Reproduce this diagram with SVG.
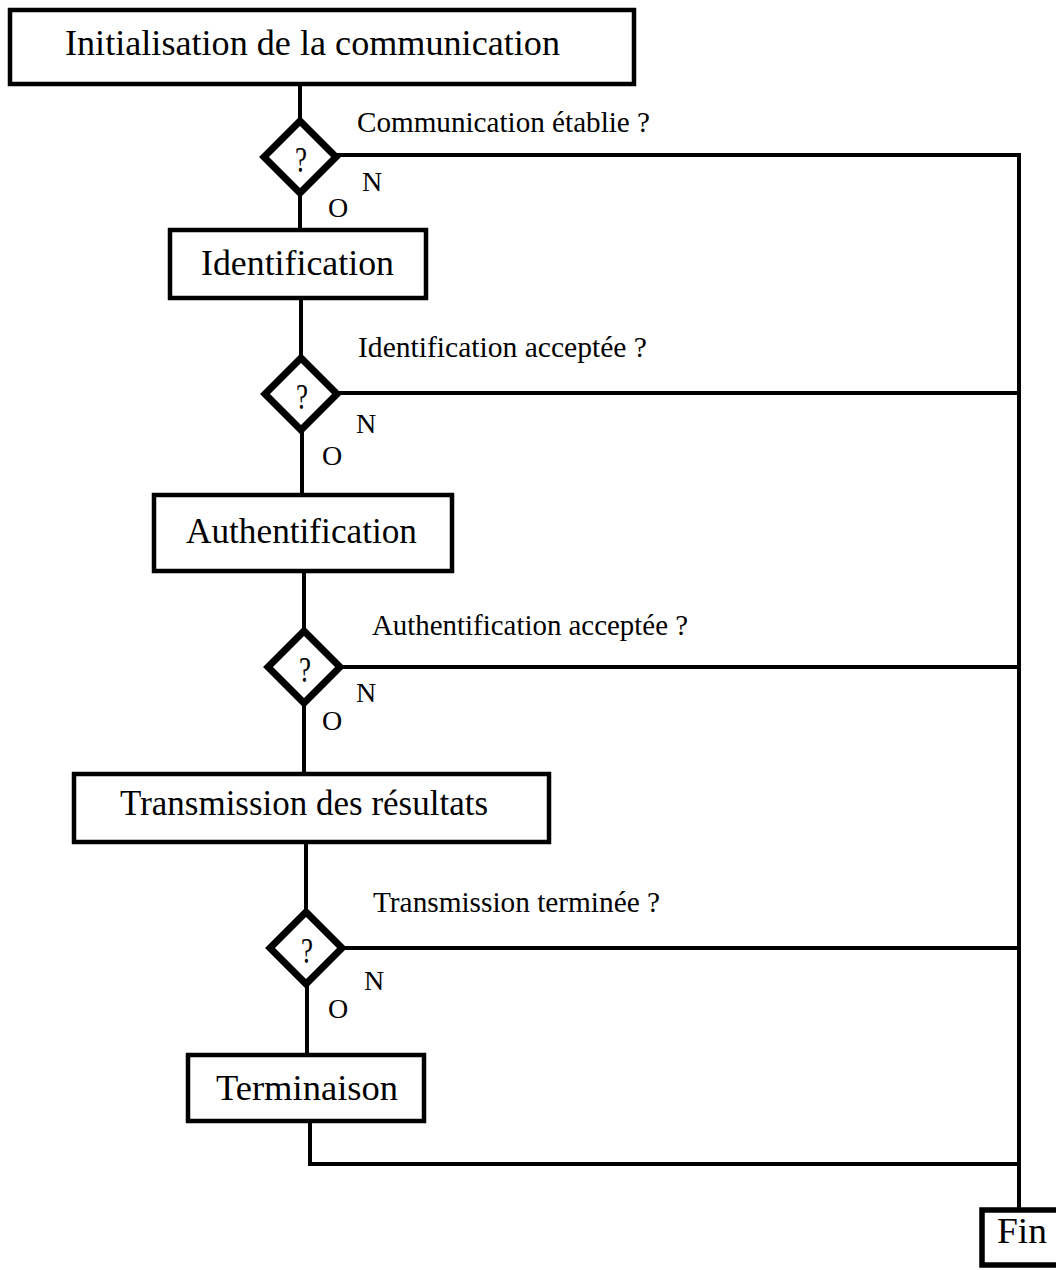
<svg xmlns="http://www.w3.org/2000/svg" width="1056" height="1270" viewBox="0 0 1056 1270">
<style>
.box{fill:#fff;stroke:#000;stroke-width:4.5}
.dia{fill:#fff;stroke:#000;stroke-width:7;stroke-linejoin:miter}
.ln{fill:none;stroke:#000;stroke-width:4;stroke-linecap:square}
.big{font-family:"Liberation Serif","Times New Roman",serif;font-size:36px;fill:#000}
.q{font-family:"Liberation Serif","Times New Roman",serif;font-size:29px;fill:#000}
.no{font-family:"Liberation Serif","Times New Roman",serif;font-size:28px;fill:#000}
.qm{font-family:"Liberation Serif","Times New Roman",serif;font-size:35px;fill:#000;text-anchor:middle}
</style>
<rect width="1056" height="1270" fill="#fff"/>
<g id="connectors">
<line class="ln" x1="300" y1="86" x2="300" y2="118"/>
<line class="ln" x1="300" y1="196" x2="300" y2="230"/>
<line class="ln" x1="301" y1="300" x2="301" y2="355"/>
<line class="ln" x1="302" y1="433" x2="302" y2="495"/>
<line class="ln" x1="304" y1="572" x2="304" y2="628"/>
<line class="ln" x1="304" y1="706" x2="304" y2="774"/>
<line class="ln" x1="306" y1="843" x2="306" y2="909"/>
<line class="ln" x1="307" y1="987" x2="307" y2="1055"/>
<polyline class="ln" points="310,1122 310,1164 1019,1164"/>
<line class="ln" x1="338" y1="155" x2="1019" y2="155"/>
<line class="ln" x1="339" y1="393" x2="1019" y2="393"/>
<line class="ln" x1="342" y1="667" x2="1019" y2="667"/>
<line class="ln" x1="344" y1="948" x2="1019" y2="948"/>
<line class="ln" x1="1019" y1="155" x2="1019" y2="1209"/>
</g>
<g id="n-init">
<rect class="box" x="10" y="10" width="624" height="74"/>
<text class="big" x="65" y="55" textLength="495" lengthAdjust="spacingAndGlyphs">Initialisation de la communication</text>
</g>
<g id="d-comm">
<path class="dia" d="M300,121 L336,157 L300,193 L264,157 Z"/>
<text class="qm" x="301" y="172" textLength="12" lengthAdjust="spacingAndGlyphs">?</text>
<text class="q" x="357" y="132" textLength="293" lengthAdjust="spacingAndGlyphs">Communication établie ?</text>
<text class="no" x="362" y="191">N</text>
<text class="no" x="328" y="217">O</text>
</g>
<g id="n-ident">
<rect class="box" x="170" y="230" width="256" height="68"/>
<text class="big" x="201" y="275" textLength="193" lengthAdjust="spacingAndGlyphs">Identification</text>
</g>
<g id="d-ident">
<path class="dia" d="M301,358 L337,394 L301,430 L265,394 Z"/>
<text class="qm" x="302" y="409" textLength="12" lengthAdjust="spacingAndGlyphs">?</text>
<text class="q" x="358" y="357" textLength="289" lengthAdjust="spacingAndGlyphs">Identification acceptée ?</text>
<text class="no" x="356" y="433">N</text>
<text class="no" x="322" y="465">O</text>
</g>
<g id="n-auth">
<rect class="box" x="154" y="495" width="298" height="76"/>
<text class="big" x="186" y="543" textLength="231" lengthAdjust="spacingAndGlyphs">Authentification</text>
</g>
<g id="d-auth">
<path class="dia" d="M304,631 L340,667 L304,703 L268,667 Z"/>
<text class="qm" x="305" y="682" textLength="12" lengthAdjust="spacingAndGlyphs">?</text>
<text class="q" x="372" y="635" textLength="316" lengthAdjust="spacingAndGlyphs">Authentification acceptée ?</text>
<text class="no" x="356" y="702">N</text>
<text class="no" x="322" y="730">O</text>
</g>
<g id="n-trans">
<rect class="box" x="74" y="774" width="475" height="68"/>
<text class="big" x="120" y="815" textLength="368" lengthAdjust="spacingAndGlyphs">Transmission des résultats</text>
</g>
<g id="d-trans">
<path class="dia" d="M306,912 L342,948 L306,984 L270,948 Z"/>
<text class="qm" x="307" y="963" textLength="12" lengthAdjust="spacingAndGlyphs">?</text>
<text class="q" x="373" y="912" textLength="287" lengthAdjust="spacingAndGlyphs">Transmission terminée ?</text>
<text class="no" x="364" y="990">N</text>
<text class="no" x="328" y="1018">O</text>
</g>
<g id="n-term">
<rect class="box" x="188" y="1055" width="236" height="66"/>
<text class="big" x="216" y="1100" textLength="182" lengthAdjust="spacingAndGlyphs">Terminaison</text>
</g>
<g id="n-fin">
<rect class="box" x="982" y="1210" width="90" height="55" style="stroke-width:5.5"/>
<text class="big" x="997" y="1243" textLength="50" lengthAdjust="spacingAndGlyphs">Fin</text>
</g>
</svg>
